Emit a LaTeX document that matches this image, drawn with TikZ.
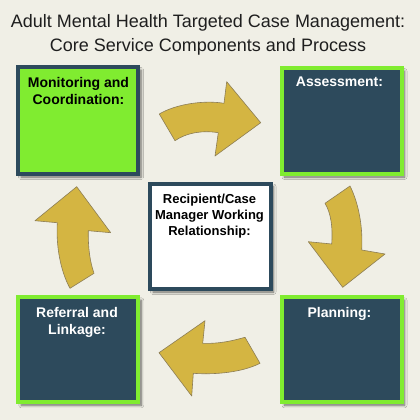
\documentclass[tikz,border=0pt]{standalone}
\usepackage{fontspec}
\setmainfont{Liberation Sans}
\usetikzlibrary{shadows.blur}
\definecolor{bg}{RGB}{240,239,230}
\definecolor{navy}{RGB}{45,74,92}
\definecolor{lime}{RGB}{128,236,48}
\definecolor{gold}{RGB}{212,181,66}
\definecolor{goldline}{RGB}{140,125,85}
\definecolor{titlec}{RGB}{30,30,30}
\tikzset{
  boxshadow/.style={blur shadow={shadow xshift=3pt, shadow yshift=-3pt, shadow blur radius=2.5pt, shadow blur steps=6, shadow opacity=55}},
  basebox/.style={rectangle, line width=4pt, minimum width=120pt, inner sep=0pt, boxshadow},
  greenbox/.style={basebox, draw=navy, fill=lime, minimum height=107pt},
  darkbox/.style={basebox, draw=lime, fill=navy},
  whitebox/.style={basebox, draw=navy, fill=white, minimum width=120.5pt, minimum height=105.5pt},
  cornertext/.style={anchor=north, inner sep=0pt, align=center, font=\bfseries\fontsize{14}{16.7}\selectfont},
  blackt/.style={cornertext, text=black},
  whitet/.style={cornertext, text=white},
  centertext/.style={anchor=north, inner sep=0pt, align=center, font=\bfseries\fontsize{13}{16}\selectfont, text=black},
  bigarrow/.style={fill=gold, draw=goldline, line width=0.6pt, line join=round},
}
\begin{document}
\begin{tikzpicture}[x=1pt, y=-1pt]
\fill[bg] (0,0) rectangle (420,420);
\useasboundingbox (0,0) rectangle (420,420);

% title
\node[anchor=north, inner sep=0pt, align=center, text=titlec, font=\fontsize{18}{24}\selectfont] (title) at (208,14.5)
  {Adult Mental Health Targeted Case Management:\\Core Service Components and Process};

% boxes
\node[greenbox] (mon) at (78,120.5) {};
\node[darkbox, minimum height=106pt] (ass) at (341.5,121) {};
\node[darkbox, minimum height=105pt] (ref) at (78.25,349.75) {};
\node[darkbox, minimum height=105pt] (pla) at (341.5,349.75) {};
\node[whitebox] (rel) at (210.25,236.25) {};

% texts
\node[blackt] (montext) at (78.5,77) {Monitoring and\\Coordination:};
\node[whitet] (asstext) at (339.5,77) {Assessment:};
\node[whitet] (reftext) at (77,307) {Referral and\\Linkage:};
\node[whitet] (platext) at (339.5,307) {Planning:};
\node[centertext] (reltext) at (209.5,193.4) {Recipient/Case\\Manager Working\\Relationship:};

% curved block arrows
% top: Monitoring -> Assessment
\draw[bigarrow] (159.3,114) .. controls (176,104) and (204,100) .. (224,103.3)
  -- (226.7,81.7) -- (260.7,122.7) -- (215,156) -- (218.3,132.7)
  .. controls (202,130) and (186,133) .. (175,140.7) -- cycle;
% right: Assessment -> Planning
\draw[bigarrow] (350,186) .. controls (359,204) and (363,228) .. (361.7,250)
  -- (385,254) -- (342.7,287.3) -- (308.3,241.7) -- (331.7,244)
  .. controls (333,228) and (331,213) .. (325,203.3) -- cycle;
% bottom: Planning -> Referral
\draw[bigarrow] (260,363.3) .. controls (243,372) and (216,375) .. (193.3,373.3)
  -- (191.7,396) -- (159,352.7) -- (205,320.7) -- (202.7,343.3)
  .. controls (218,344) and (232,341) .. (245,337.3) -- cycle;
% left: Referral -> Monitoring
\draw[bigarrow] (70,288.3) .. controls (60,270) and (56,245) .. (57.3,222.7)
  -- (35,220.7) -- (76.7,186.7) -- (110.7,232.7) -- (88.3,230.7)
  .. controls (88,248) and (90,262) .. (94,273.3) -- cycle;
\end{tikzpicture}
\end{document}
